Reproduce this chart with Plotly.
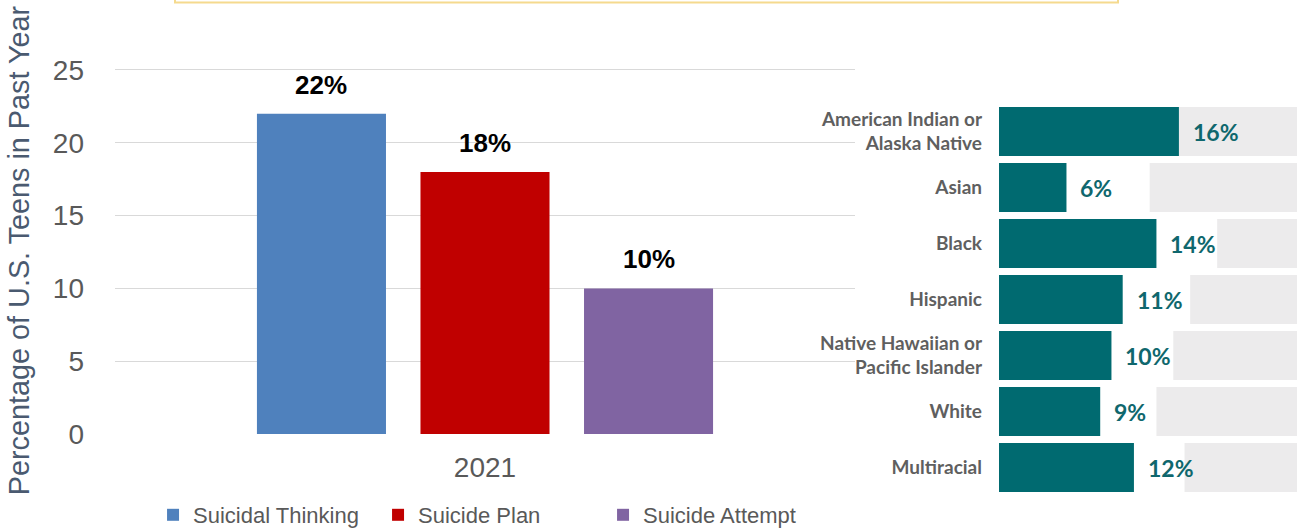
import plotly.graph_objects as go

# ---- Left chart data ----
years = ["2021"]
series_names = ["Suicidal Thinking", "Suicide Plan", "Suicide Attempt"]
series_values = [22, 18, 10]
series_colors = ["#4F81BD", "#C00000", "#8064A2"]
y_ticks = [0, 5, 10, 15, 20, 25]

# ---- Right chart data ----
groups = ["American Indian or<br>Alaska Native", "Asian", "Black", "Hispanic",
          "Native Hawaiian or<br>Pacific Islander", "White", "Multiracial"]
group_values = [16, 6, 14, 11, 10, 9, 12]
# where the decorative grey brush band starts in each row (in % units)
band_start = [16, 13.4, 19.4, 17, 15.5, 14, 16.5]
band_end = 26.5

W, H = 1297, 531
TEAL = "#006A70"

fig = go.Figure()

bargap = 0.337
for name, val, col in zip(series_names, series_values, series_colors):
    fig.add_trace(go.Bar(x=years, y=[val], name=name, marker_color=col,
                         marker_line_width=0, xaxis="x", yaxis="y"))

# grey decorative band (behind), then teal bars
fig.add_trace(go.Bar(y=groups, x=[band_end - s for s in band_start], base=band_start,
                     orientation="h", marker_color="#ECEBEC", marker_line_width=0,
                     width=0.875, offset=-0.4375, showlegend=False,
                     xaxis="x2", yaxis="y2", hoverinfo="skip"))
fig.add_trace(go.Bar(y=groups, x=group_values, orientation="h", marker_color=TEAL,
                     marker_line_width=0, width=0.875, offset=-0.4375,
                     showlegend=False, xaxis="x2", yaxis="y2"))

annotations = []
# left value labels above bars, centred on grouped bar positions
n = len(series_names)
slot = (1 - bargap) / n
for i, val in enumerate(series_values):
    cx = -(1 - bargap) / 2 + slot * (i + 0.5)
    annotations.append(dict(x=cx, y=val, xref="x", yref="y", text=f"<b>{val}%</b>",
                            showarrow=False, yanchor="bottom", yshift=12,
                            font=dict(family="Liberation Sans", size=26, color="#000000")))
# right value labels
for g, v in zip(groups, group_values):
    annotations.append(dict(x=v, y=g, xref="x2", yref="y2", text=f"<b>{v}%</b>",
                            showarrow=False, xanchor="left", xshift=12,
                            font=dict(family="Lato", size=23, color="#0F676D")))

px_per = 14.56
y_top_val = 25.2
y0_px = 434
plot_top = y0_px - y_top_val * px_per

fig.update_layout(
    width=W, height=H,
    margin=dict(l=0, r=0, t=0, b=0, autoexpand=False),
    paper_bgcolor="white", plot_bgcolor="rgba(0,0,0,0)",
    barmode="group", bargap=bargap, bargroupgap=0.211,
    showlegend=True,
    legend=dict(orientation="h", x=0.118, y=(H - 515) / H, xanchor="left", yanchor="middle",
                font=dict(family="Liberation Sans", size=22, color="#595959"),
                entrywidth=180, itemwidth=30, bgcolor="rgba(0,0,0,0)"),
    xaxis=dict(domain=[115 / W, 855 / W], range=[-0.5, 0.5], type="category",
               showgrid=False, zeroline=False, showline=False, ticks="",
               automargin=False,
               tickfont=dict(family="Liberation Sans", size=28, color="#595959"),
               ticklabelstandoff=14),
    yaxis=dict(domain=[(H - y0_px) / H, (H - plot_top) / H], range=[0, y_top_val],
               tickvals=y_ticks, showgrid=True, gridcolor="#D9D9D9", gridwidth=1,
               zeroline=False, showline=False, ticks="", automargin=False,
               tickfont=dict(family="Liberation Sans", size=28, color="#595959"),
               ticklabelstandoff=30,
               title=dict(text="Percentage of U.S. Teens in Past Year", standoff=14,
                          font=dict(family="Liberation Sans", size=28.8, color="#4A5A70"))),
    xaxis2=dict(domain=[999 / W, 1.0], range=[0, band_end], visible=False, anchor="y2"),
    yaxis2=dict(domain=[(H - 495.5) / H, (H - 103.5) / H], autorange="reversed",
                anchor="x2", showgrid=False, zeroline=False, showline=False, ticks="",
                ticklabelstandoff=16, automargin=False,
                tickfont=dict(family="Lato", size=19, color="#5F5F5F", weight="bold")),
    annotations=annotations,
    shapes=[dict(type="rect", xref="paper", yref="paper", x0=175 / W, x1=1118 / W,
                 y0=(H - 2.5) / H, y1=1.05, line=dict(color="#F5DA8E", width=2),
                 fillcolor="#FFFFFF", layer="below")],
)

fig.write_html("out.html")
